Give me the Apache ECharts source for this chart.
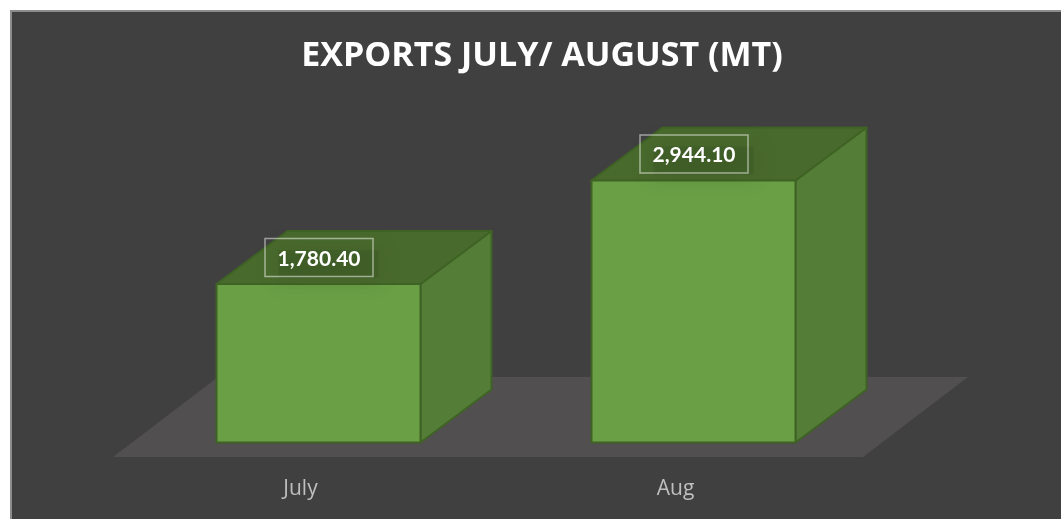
<!DOCTYPE html>
<html>
<head>
<meta charset="utf-8">
<title>Exports July / August</title>
<script src="https://cdn.jsdelivr.net/npm/echarts@6/dist/echarts.min.js"></script>
<style>
    html, body {margin: 0; padding: 0; background: #fff;}
    #main {width: 1061px; height: 519px;}
</style>
</head>
<body>
<div id="main"></div>
<script>
    const categories = ["July", "Aug"];
    const exportsMt = [1780.4, 2944.1];

    // look of the fake 3d boxes, in px
    const depthX = 71, depthY = 53;
    const shiftX = 18, shiftY = 14.5;   // boxes sit a bit inside the floor
    const floorX = 105, floorY = 80;
    const edge = "#3f6324";

    function formatMt(v) {
        return v.toLocaleString("en-US", {minimumFractionDigits: 2, maximumFractionDigits: 2});
    }

    function renderBox(params, api) {
        const idx = api.value(0);
        const val = api.value(1);
        const band = api.size([1, 0])[0];
        const w = band * 0.544;
        const base = api.coord([idx, 0]);
        const top = api.coord([idx, val]);
        const x0 = base[0] + shiftX - w / 2;
        const x1 = x0 + w;
        const y0 = base[1] - shiftY;
        const y1 = top[1] - shiftY;
        const line = {stroke: edge, lineWidth: 2, lineJoin: "round"};
        const cx = (x0 + x1) / 2;
        const boxW = 108, boxH = 38;
        const by = y1 - 46;
        return {
            type: "group",
            children: [
                {type: "polygon", shape: {points: [[x1, y0], [x1 + depthX, y0 - depthY], [x1 + depthX, y1 - depthY], [x1, y1]]},
                    style: Object.assign({fill: "#547d37"}, line)},
                {type: "polygon", shape: {points: [[x0, y1], [x1, y1], [x1 + depthX, y1 - depthY], [x0 + depthX, y1 - depthY]]},
                    style: Object.assign({fill: "#496a2d"}, line)},
                {type: "rect", shape: {x: x0, y: y1, width: w, height: y0 - y1},
                    style: Object.assign({fill: "#6a9f46"}, line)},
                // soft dark patch behind the label
                {type: "rect", shape: {x: cx - boxW / 2 + 14, y: by + 12, width: boxW - 8, height: boxH - 10},
                    style: {fill: "rgba(58,84,36,0.4)", shadowBlur: 20, shadowColor: "rgba(58,84,36,0.95)"}},
                {type: "rect", shape: {x: cx - boxW / 2 + 0.5, y: by + 0.5, width: boxW, height: boxH},
                    style: {fill: "rgba(0,0,0,0)", stroke: "rgba(255,255,255,0.5)", lineWidth: 1.5}},
                {type: "text", style: {
                    x: cx + 0.5, y: by + boxH / 2 + 2, text: formatMt(val),
                    fill: "#fff", font: "bold 21px Lato, 'Open Sans', sans-serif",
                    align: "center", verticalAlign: "middle"
                }}
            ]
        };
    }

    function renderFloor(params, api) {
        const c = params.coordSys;
        const yb = c.y + c.height;
        return {
            type: "polygon",
            shape: {points: [[c.x, yb], [c.x + c.width, yb], [c.x + c.width + floorX, yb - floorY], [c.x + floorX, yb - floorY]]},
            style: {fill: "#514f50"}
        };
    }

    const myChart = echarts.init(document.getElementById("main"));
    myChart.setOption({
        backgroundColor: "#fff",
        animation: false,
        title: {
            text: "EXPORTS JULY/ AUGUST (MT)",
            left: 537,
            top: 34,
            textAlign: "center",
            textStyle: {color: "#fff", fontFamily: "Open Sans", fontWeight: "bold", fontSize: 34}
        },
        // panel behind everything, the page stays white on top and left
        graphic: [{
            type: "rect", z: -10, silent: true,
            shape: {x: 11, y: 11, width: 1060, height: 520},
            style: {fill: "#404040", stroke: "#8c8c8c", lineWidth: 2}
        }],
        grid: {left: 113, right: 198, top: 190, bottom: 62},
        xAxis: {
            type: "category",
            data: categories,
            axisLine: {show: false},
            axisTick: {show: false},
            axisLabel: {color: "#bfbfbf", fontFamily: "Open Sans", fontSize: 21, margin: 22}
        },
        yAxis: {type: "value", min: 0, max: 3000, show: false},
        series: [
            {type: "custom", coordinateSystem: "cartesian2d", clip: false, silent: true, z: 1,
                renderItem: renderFloor, data: [[0, 0]]},
            {type: "custom", coordinateSystem: "cartesian2d", clip: false, silent: true, z: 2,
                renderItem: renderBox, encode: {x: 0, y: 1},
                data: exportsMt.map(function (v, i) { return [i, v]; })}
        ]
    });
</script>
</body>
</html>
